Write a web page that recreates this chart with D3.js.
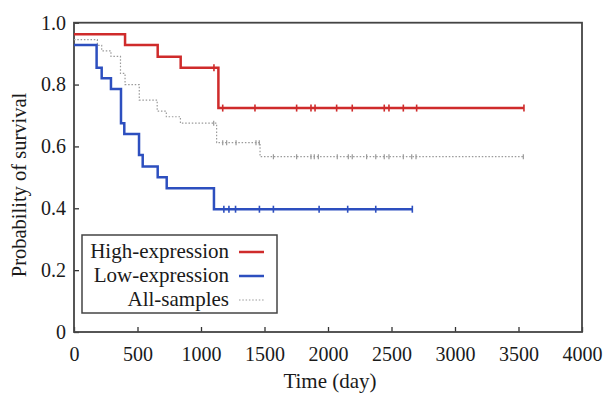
<!DOCTYPE html>
<html>
<head>
<meta charset="utf-8">
<script src="https://cdn.jsdelivr.net/npm/d3@7"></script>
<style>
  body { margin: 0; background: #fff; }
  text { font-family: "Liberation Serif", "Times New Roman", serif; fill: #1a1a1a; }
</style>
</head>
<body>
<div id="chart"></div>
<script>
// Kaplan-Meier curves: step times (day) and survival after each step
const highTimes = [0, 402, 659, 840, 1137];
const highSurv = [0.963, 0.928, 0.890, 0.854, 0.724];
const highEnd = 3543;
const highCensor = [1102, 1171, 1425, 1753, 1866, 1898, 2068, 2191, 2443, 2480, 2593, 2698, 3543];

const lowTimes = [0, 178, 218, 291, 370, 396, 512, 541, 659, 730, 1102];
const lowSurv = [0.928, 0.854, 0.820, 0.786, 0.675, 0.640, 0.572, 0.535, 0.500, 0.465, 0.397];
const lowEnd = 2664;
const lowCensor = [1180, 1220, 1272, 1460, 1570, 1930, 2155, 2376, 2664];

const allTimes = [0, 184, 218, 291, 366, 402, 514, 655, 727, 838, 1123, 1465];
const allSurv = [0.945, 0.927, 0.909, 0.891, 0.836, 0.800, 0.750, 0.714, 0.696, 0.675, 0.612, 0.567];
const allEnd = 3538;
const allCensor = [1100, 1171, 1202, 1276, 1433, 1459, 1570, 1753, 1866, 1892, 1924, 2073, 2160,
  2191, 2304, 2376, 2443, 2480, 2593, 2659, 2693, 3538];

const xTicks = [0, 500, 1000, 1500, 2000, 2500, 3000, 3500, 4000];
const yTicks = [0, 0.2, 0.4, 0.6, 0.8, 1.0];
const legendLabels = ['High-expression', 'Low-expression', 'All-samples'];

const width = 608;
const height = 396;
const plot = { left: 74, right: 582, top: 22.7, bottom: 332 };

const x = d3.scaleLinear().domain([0, 4000]).range([plot.left, plot.right]);
const y = d3.scaleLinear().domain([0, 1]).range([plot.bottom, plot.top]);

const svg = d3.select('#chart').append('svg').attr('width', width).attr('height', height);

// axes with inward ticks
svg
  .append('g')
  .attr('transform', `translate(0,${plot.bottom})`)
  .call(d3.axisBottom(x).tickValues(xTicks).tickSizeInner(-5).tickSizeOuter(0).tickPadding(15).tickFormat(d3.format('d')))
  .call((g) => g.select('.domain').remove())
  .call((g) => g.selectAll('line').attr('stroke', '#333').attr('stroke-width', 1.3))
  .call((g) => g.selectAll('text').style('font-size', '20px').attr('fill', '#1a1a1a'));

svg
  .append('g')
  .attr('transform', `translate(${plot.left},0)`)
  .call(d3.axisLeft(y).tickValues(yTicks).tickSizeInner(-5).tickSizeOuter(0).tickPadding(8)
    .tickFormat((d) => (d === 0 ? '0' : d.toFixed(1))))
  .call((g) => g.select('.domain').remove())
  .call((g) => g.selectAll('line').attr('stroke', '#333').attr('stroke-width', 1.3))
  .call((g) => g.selectAll('text').style('font-size', '20px').attr('fill', '#1a1a1a'));

svg
  .append('rect')
  .attr('x', plot.left)
  .attr('y', plot.top)
  .attr('width', plot.right - plot.left)
  .attr('height', plot.bottom - plot.top)
  .attr('fill', 'none')
  .attr('stroke', '#444')
  .attr('stroke-width', 1.8);

// axis titles
svg
  .append('text')
  .attr('x', 330)
  .attr('y', 388)
  .attr('text-anchor', 'middle')
  .style('font-size', '21px')
  .text('Time (day)');

svg
  .append('text')
  .attr('transform', 'translate(26,185) rotate(-90)')
  .attr('text-anchor', 'middle')
  .style('font-size', '20.5px')
  .text('Probability of survival');

const series = [
  { times: allTimes, surv: allSurv, end: allEnd, censor: allCensor, color: '#9a9a9a', width: 1.2, dash: '1.5,1.8', tick: 5 },
  { times: highTimes, surv: highSurv, end: highEnd, censor: highCensor, color: '#cf2b2b', width: 2.5, dash: null, tick: 7 },
  { times: lowTimes, surv: lowSurv, end: lowEnd, censor: lowCensor, color: '#2d4fbf', width: 2.5, dash: null, tick: 7 }
];

const stepLine = d3
  .line()
  .x((d) => x(d[0]))
  .y((d) => y(d[1]))
  .curve(d3.curveStepAfter);

function survAt(s, t) {
  const i = d3.bisectRight(s.times, t) - 1;
  return s.surv[Math.max(0, i)];
}

series.forEach((s) => {
  const pts = s.times.map((t, i) => [t, s.surv[i]]);
  pts.push([s.end, s.surv[s.surv.length - 1]]);

  svg
    .append('path')
    .datum(pts)
    .attr('d', stepLine)
    .attr('fill', 'none')
    .attr('stroke', s.color)
    .attr('stroke-width', s.width)
    .attr('stroke-dasharray', s.dash);

  svg
    .selectAll(null)
    .data(s.censor)
    .join('line')
    .attr('x1', (t) => x(t))
    .attr('x2', (t) => x(t))
    .attr('y1', (t) => y(survAt(s, t)) - s.tick / 2)
    .attr('y2', (t) => y(survAt(s, t)) + s.tick / 2)
    .attr('stroke', s.color)
    .attr('stroke-width', s.dash ? 1.2 : 1.6);
});

// legend
const legend = svg.append('g');
legend
  .append('rect')
  .attr('x', 82)
  .attr('y', 235)
  .attr('width', 195)
  .attr('height', 78)
  .attr('fill', '#fff')
  .attr('stroke', '#444')
  .attr('stroke-width', 1.5);

const legendSeries = [series[1], series[2], series[0]];
legendLabels.forEach((label, i) => {
  const cy = 252 + i * 24;
  legend
    .append('text')
    .attr('x', 229)
    .attr('y', cy + 6)
    .attr('text-anchor', 'end')
    .style('font-size', '21px')
    .text(label);
  legend
    .append('line')
    .attr('x1', 239)
    .attr('x2', 264)
    .attr('y1', cy)
    .attr('y2', cy)
    .attr('stroke', legendSeries[i].color)
    .attr('stroke-width', legendSeries[i].dash ? 1.2 : 2.5)
    .attr('stroke-dasharray', legendSeries[i].dash);
});
</script>
</body>
</html>
